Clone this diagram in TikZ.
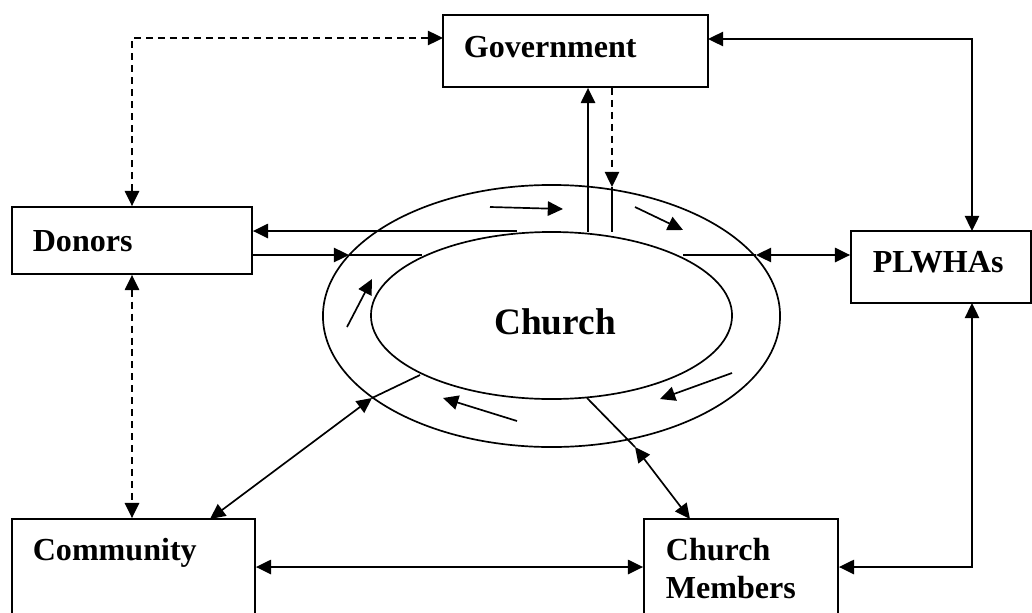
\documentclass[tikz,border=0pt]{standalone}
\usepackage{fontspec}
\setmainfont{Liberation Serif}
\usetikzlibrary{arrows.meta,shapes.geometric,fit}

\begin{document}
\begin{tikzpicture}[
  x=0.025cm, y=-0.025cm,
  line width=1.2pt,
  >={Triangle[length=0.38cm,width=0.36cm]},
  boxstyle/.style={
        draw,
        rectangle,
        inner sep=0pt,
        line width=1.3pt
  },
  textstyle/.style={
        inner sep=0pt,
        align=left,
        font=\bfseries\fontsize{22.8}{27}\selectfont
  },
  ringstyle/.style={
        draw,
        ellipse,
        inner sep=0pt
  },
  dashline/.style={dash pattern=on 5pt off 3.5pt}
]

    \clip (0,0) rectangle (1032,612);

    % boxes
    \node[boxstyle, fit={(443,15) (708,87)}] (gov) {};
    \node[boxstyle, fit={(12,207) (252,274)}] (donors) {};
    \node[boxstyle, fit={(851,231) (1031,303)}] (plwhas) {};
    \node[boxstyle, fit={(12,519) (255,615)}] (community) {};
    \node[boxstyle, fit={(644,519) (838,615)}] (members) {};

    \node[textstyle, anchor=base west] (gov_t) at (463,57) {Government};
    \node[textstyle, anchor=base west] (donors_t) at (32,251) {Donors};
    \node[textstyle, anchor=base west] (plwhas_t) at (872,272) {PLWHAs};
    \node[textstyle, anchor=base west] (community_t) at (32,560) {Community};
    \node[textstyle, anchor=north west] (members_t) at (665,537) {Church\\Members};

    % the church and its ring
    \node[ringstyle, minimum width=11.425cm, minimum height=6.55cm] (ring) at (551.5,316) {};
    \node[ringstyle, minimum width=9.025cm, minimum height=4.175cm] (church) at (551.5,315.5) {};
    \node[inner sep=0pt, font=\bfseries\fontsize{26.5}{30}\selectfont] (church_t) at (555,322) {Church};

    % free ends on the ring
    \coordinate (gov_up) at (588,232);
    \coordinate (gov_down) at (612,232);
    \coordinate (gov_hit) at (612,187);
    \coordinate (gov_l) at (443,38);
    \coordinate (gov_r) at (708,39);
    \coordinate (donors_out) at (517,231);
    \coordinate (donors_hit) at (349,255);
    \coordinate (donors_in) at (422,255);
    \coordinate (plwhas_in) at (683,255);
    \coordinate (plwhas_hit) at (756,255);
    \coordinate (plwhas_top) at (972,231);
    \coordinate (plwhas_bot) at (972,303);
    \coordinate (comm_top) at (210,519);
    \coordinate (comm_hit) at (372,398);
    \coordinate (comm_in) at (420,375);
    \coordinate (memb_in) at (587,398);
    \coordinate (memb_hit) at (635,447);
    \coordinate (memb_top) at (690,519);

    \draw[dashline, <->] (donors.north) |- (gov_l);
    \draw[<->] (gov_r) -| (plwhas_top);
    \draw[dashline, <->] (donors.south) -- (donors.south |- community.north);
    \draw[<->] (plwhas_bot) |- (members.east);
    \draw[<->] (community.east) -- (members.west);

    \draw[->] (gov_up) -- (gov_up |- gov.south);
    \draw[dashline, ->] (gov_down |- gov.south) -- (gov_hit);
    \draw (gov_hit) -- (gov_down);

    \draw[->] (donors_out) -- (donors_out -| donors.east);
    \draw[->] (donors.east |- donors_hit) -- (donors_hit);
    \draw (donors_hit) -- (donors_in);

    \draw (plwhas_in) -- (plwhas_hit);
    \draw[<->] (plwhas_hit) -- (plwhas_hit -| plwhas.west);

    \draw[<->] (comm_top) -- (comm_hit);
    \draw (comm_hit) -- (comm_in);

    \draw (memb_in) -- (memb_hit);
    \draw[<->] (memb_hit) -- (memb_top);

    % flow round the ring
    \draw[->] (490,207) -- (563,209);
    \draw[->] (635,207) -- (683,230);
    \draw[->] (732,373) -- (660,399);
    \draw[->] (517,421) -- (443,398);
    \draw[->] (347,327) -- (372,279);
\end{tikzpicture}
\end{document}
